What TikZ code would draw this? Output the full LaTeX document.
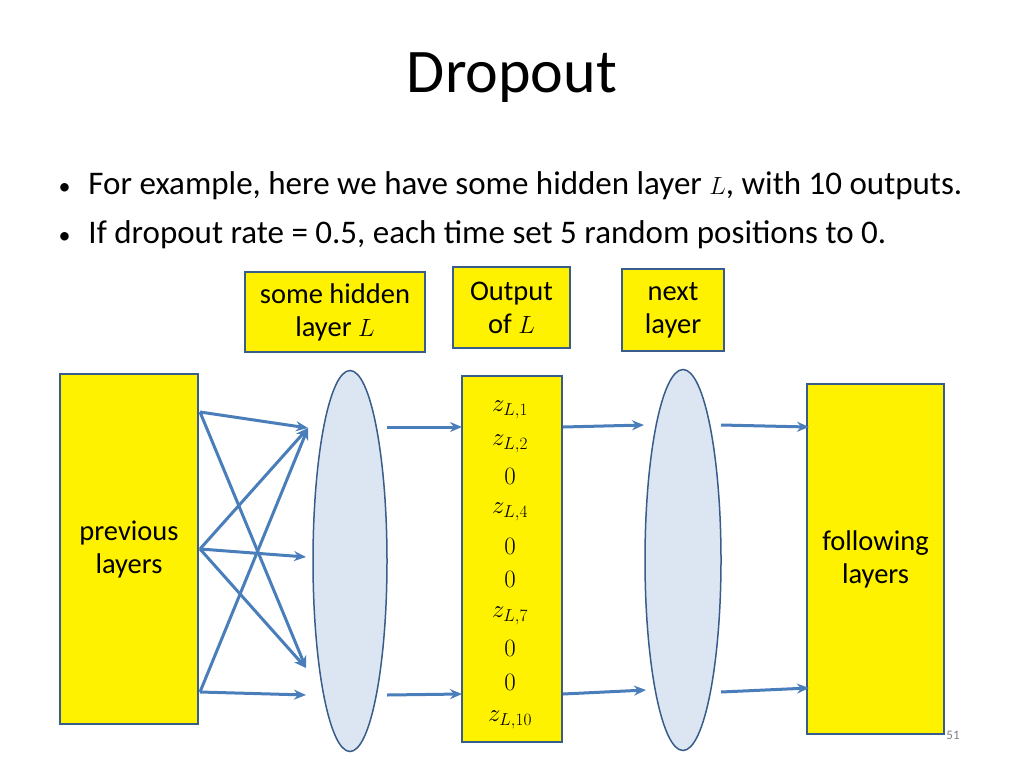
\documentclass[tikz,border=0pt]{standalone}
\usepackage{fontspec}
\setmainfont{Carlito}
\usetikzlibrary{shapes.geometric,arrows.meta}
\definecolor{arr}{HTML}{4A7EBB}
\definecolor{bord}{HTML}{385D8A}
\definecolor{ell}{HTML}{DCE6F2}
\begin{document}
\begin{tikzpicture}[x=1pt,y=-1pt,
 yb/.style={draw=bord,line width=1.5pt,fill=yellow,inner sep=0},
 el/.style={ellipse,draw=bord,line width=1.5pt,fill=ell,inner sep=0},
 ar/.style={draw=arr,line width=3pt,-{Stealth[length=12pt,width=10pt]}},
 txt/.style={font=\fontsize{28.5}{33}\selectfont,align=center},
 zv/.style={font=\fontsize{27}{28}\selectfont,inner sep=0}]
\useasboundingbox (0,0) rectangle (1024,768);
\node (title) at (512,78) {\fontsize{62}{68}\selectfont Dropout};
\node[anchor=west,font=\fontsize{33}{38}\selectfont] (b1) at (55,186) {\fontsize{24}{28}\selectfont•\hspace{18pt}\fontsize{33}{38}\selectfont For example, here we have some hidden layer $L$, with 10 outputs.};
\node[anchor=west,font=\fontsize{33}{38}\selectfont] (b2) at (55,235) {\fontsize{24}{28}\selectfont•\hspace{18pt}\fontsize{33}{38}\selectfont If dropout rate = 0.5, each time set 5 random positions to 0.};
\node[yb,minimum width=180pt,minimum height=80pt,txt] (h) at (335,312) {some hidden\\layer $L$};
\node[yb,minimum width=117pt,minimum height=81pt,txt] (o) at (511.5,307.5) {Output\\of $L$};
\node[yb,minimum width=102pt,minimum height=82pt,txt] (n) at (673,310) {next\\layer};
\node[yb,minimum width=138pt,minimum height=350pt,txt] (p) at (129,549) {previous\\layers};
\node[yb,minimum width=137pt,minimum height=350pt,txt] (f) at (875.5,559) {following\\layers};
\node[yb,minimum width=100pt,minimum height=366pt] (c) at (512,559) {};
\node[el,minimum width=74pt,minimum height=381pt] (e1) at (350,561) {};
\node[el,minimum width=76pt,minimum height=381pt] (e2) at (683,560) {};
\foreach \t/\y [count=\i] in {$z_{L,1}$/410,$z_{L,2}$/444,$0$/476,$z_{L,4}$/512,$0$/546,$0$/579,$z_{L,7}$/616,$0$/648,$0$/682,$z_{L,10}$/720}
  \node[zv] (v\i) at (510,\y) {\t};
\coordinate (s1) at (200,412); \coordinate (s2) at (200,549); \coordinate (s3) at (200,692);
\coordinate (t1) at (308,428); \coordinate (t2) at (306,557); \coordinate (t3) at (306,668); \coordinate (t4) at (306,695);
\foreach \a/\b in {s1/t1,s1/t3,s2/t1,s2/t2,s2/t3,s3/t1,s3/t4} \draw[ar] (\a) -- (\b);
\coordinate (a1) at (387,427); \coordinate (a2) at (462,427);
\coordinate (a3) at (387,695); \coordinate (a4) at (462,694);
\coordinate (a5) at (563,427); \coordinate (a6) at (644,425);
\coordinate (a7) at (563,694); \coordinate (a8) at (646,690);
\coordinate (a9) at (721,425); \coordinate (a10) at (809,427);
\coordinate (a11) at (721,692); \coordinate (a12) at (809,688);
\foreach \a/\b in {a1/a2,a3/a4,a5/a6,a7/a8,a9/a10,a11/a12} \draw[ar] (\a) -- (\b);
\node[text=gray,font=\fontsize{13}{15}\selectfont] (pg) at (953,735) {51};
\end{tikzpicture}
\end{document}
